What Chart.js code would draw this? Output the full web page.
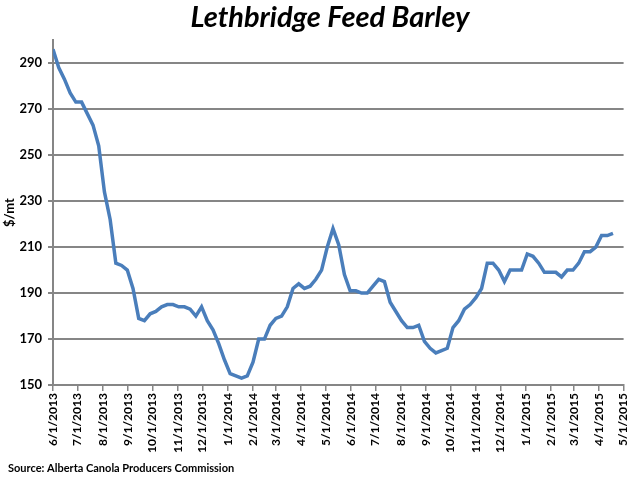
<!DOCTYPE html>
<html>
<head>
<meta charset="utf-8">
<script src="https://cdn.jsdelivr.net/npm/chart.js@4.4.1/dist/chart.umd.min.js"></script>
<style>
  html, body { margin: 0; padding: 0; background: #fff; }
  #wrap { width: 640px; height: 480px; position: relative; }
</style>
</head>
<body>
<div id="wrap"><canvas id="barleyChart" width="640" height="480"></canvas></div>
<script>
// weekly prices, $/mt, first week starts 6/1/2013
var startDate = '6/1/2013';
var weeklyPrices = [
    296, 288, 283, 277, 273, 273, 268, 263, 254, 234,
    222, 203, 202, 200, 192, 179, 178, 181, 182, 184,
    185, 185, 184, 184, 183, 180, 184, 178, 174, 168,
    161, 155, 154, 153, 154, 160, 170, 170, 176, 179,
    180, 184, 192, 194, 192, 193, 196, 200, 210, 218,
    211, 198, 191, 191, 190, 190, 193, 196, 195, 186,
    182, 178, 175, 175, 176, 169, 166, 164, 165, 166,
    175, 178, 183, 185, 188, 192, 203, 203, 200, 195,
    200, 200, 200, 207, 206, 203, 199, 199, 199, 197,
    200, 200, 203, 208, 208, 210, 215, 215, 216
];

var monthLabels = [
    '6/1/2013', '7/1/2013', '8/1/2013', '9/1/2013', '10/1/2013', '11/1/2013',
    '12/1/2013', '1/1/2014', '2/1/2014', '3/1/2014', '4/1/2014', '5/1/2014',
    '6/1/2014', '7/1/2014', '8/1/2014', '9/1/2014', '10/1/2014', '11/1/2014',
    '12/1/2014', '1/1/2015', '2/1/2015', '3/1/2015', '4/1/2015', '5/1/2015'
];
var yTicks = [150, 170, 190, 210, 230, 250, 270, 290];

var fontName = 'Lato, "Open Sans", sans-serif';

function dayOffset(label) {
    var p = label.split('/');
    var d = Date.UTC(+p[2], +p[0] - 1, +p[1]);
    var s = startDate.split('/');
    var d0 = Date.UTC(+s[2], +s[0] - 1, +s[1]);
    return Math.round((d - d0) / 86400000);
}

var monthOffsets = monthLabels.map(dayOffset);
var labelByOffset = {};
monthLabels.forEach(function (l, i) { labelByOffset[monthOffsets[i]] = l; });

var points = weeklyPrices.map(function (v, i) {
    return { x: i * 7, y: v };
});

// title + source note drawn straight onto the canvas
var textPlugin = {
    id: 'textPlugin',
    afterDraw: function (chart) {
        var ctx = chart.ctx;
        ctx.save();
        ctx.fillStyle = '#000';
        ctx.font = 'italic bold 29px ' + fontName;
        ctx.textAlign = 'center';
        ctx.textBaseline = 'middle';
        ctx.fillText('Lethbridge Feed Barley', 330, 18);
        ctx.font = 'bold 11px ' + fontName;
        ctx.textAlign = 'left';
        ctx.fillText('Source: Alberta Canola Producers Commission', 8, 468);
        ctx.restore();
    }
};

var ctx = document.getElementById('barleyChart').getContext('2d');
new Chart(ctx, {
    type: 'line',
    data: {
        datasets: [{
            label: 'Lethbridge Feed Barley',
            data: points,
            borderColor: '#4a7ebb',
            borderWidth: 3.5,
            pointRadius: 0,
            tension: 0,
            fill: false
        }]
    },
    plugins: [textPlugin],
    options: {
        responsive: false,
        animation: false,
        layout: {
            padding: { top: 40, right: 15, bottom: 25, left: 0 }
        },
        plugins: {
            legend: { display: false },
            tooltip: { enabled: false }
        },
        scales: {
            x: {
                type: 'linear',
                min: 0,
                max: monthOffsets[monthOffsets.length - 1],
                afterBuildTicks: function (axis) {
                    axis.ticks = monthOffsets.map(function (v) { return { value: v }; });
                },
                ticks: {
                    autoSkip: false,
                    minRotation: 90,
                    maxRotation: 90,
                    color: '#000',
                    padding: 2,
                    font: { family: fontName, size: 12, weight: 'bold' },
                    callback: function (value) { return labelByOffset[value] || ''; }
                },
                grid: {
                    drawOnChartArea: false,
                    drawTicks: true,
                    tickLength: 6,
                    color: '#868686',
                    lineWidth: 1.5
                },
                border: { color: '#868686', width: 2 }
            },
            y: {
                min: 150,
                max: 300,
                afterBuildTicks: function (axis) {
                    axis.ticks = yTicks.map(function (v) { return { value: v }; });
                },
                afterFit: function (axis) {
                    axis.width = 53;
                },
                ticks: {
                    color: '#000',
                    padding: 6,
                    font: { family: fontName, size: 13, weight: 'bold' }
                },
                title: {
                    display: true,
                    text: '$/mt',
                    color: '#000',
                    padding: { top: 2, bottom: 1 },
                    font: { family: fontName, size: 13, weight: 'bold' }
                },
                grid: {
                    color: '#868686',
                    lineWidth: 2,
                    tickLength: 5
                },
                border: { color: '#868686', width: 2 }
            }
        }
    }
});
</script>
</body>
</html>
